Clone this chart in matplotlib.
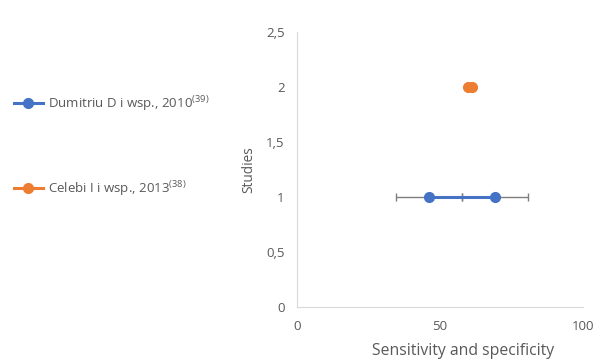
import matplotlib.pyplot as plt
from matplotlib.lines import Line2D

plt.rcParams["font.family"] = ["Open Sans", "DejaVu Sans"]

# sensitivity / specificity per study, plotted at the study's row
studies = ["Dumitriu D i wsp., 2010$^{\\mathregular{(39)}}$",
           "Celebi I i wsp., 2013$^{\\mathregular{(38)}}$"]
study_rows = [1, 2]
sens_spec = [[46.2, 69.2], [59.6, 61.2]]
xerr = [[11.5, 11.5], [0.0, 0.0]]
colors = ["#4472C4", "#ED7D31"]

x_ticks = [0, 50, 100]
y_ticks = [0, 0.5, 1, 1.5, 2, 2.5]
y_ticklabels = ["0", "0,5", "1", "1,5", "2", "2,5"]

grey = "#595959"

fig = plt.figure(figsize=(6, 3.63), dpi=100)
ax = fig.add_axes([0.495, 0.153, 0.477, 0.76])

handles = []
for row, vals, err, col, name in zip(study_rows, sens_spec, xerr, colors, studies):
    ys = [row] * len(vals)
    if max(err) > 0:
        ax.errorbar(vals, ys, xerr=err, fmt="none", ecolor="#7f7f7f",
                    elinewidth=1.0, capsize=3, capthick=1.0, zorder=2)
    ax.plot(vals, ys, color=col, linewidth=2.2, marker="o", markersize=7,
            zorder=3)
    handles.append(Line2D([], [], color=col, linewidth=2.2, marker="o",
                          markersize=7, label=name))

ax.set_xlim(0, 100)
ax.set_ylim(0, 2.5)
ax.set_xticks(x_ticks)
ax.set_yticks(y_ticks)
ax.set_yticklabels(y_ticklabels)
ax.tick_params(length=0, colors=grey, labelsize=9.5, pad=9)
for s in ["top", "right"]:
    ax.spines[s].set_visible(False)
for s in ["left", "bottom"]:
    ax.spines[s].set_color("#d9d9d9")
ax.set_xlabel("Sensitivity and specificity", color=grey, fontsize=11.3)
ax.xaxis.set_label_coords(0.58, -0.13)
ax.set_ylabel("Studies", color=grey, fontsize=9.8, labelpad=7)

leg = fig.legend(handles=handles, loc="upper left", bbox_to_anchor=(0.014, 0.755),
                 frameon=False, fontsize=9.5, labelspacing=4.95, handlelength=2.2,
                 handletextpad=0.4, borderaxespad=0)
for t in leg.get_texts():
    t.set_color(grey)

fig.savefig("out.png")
